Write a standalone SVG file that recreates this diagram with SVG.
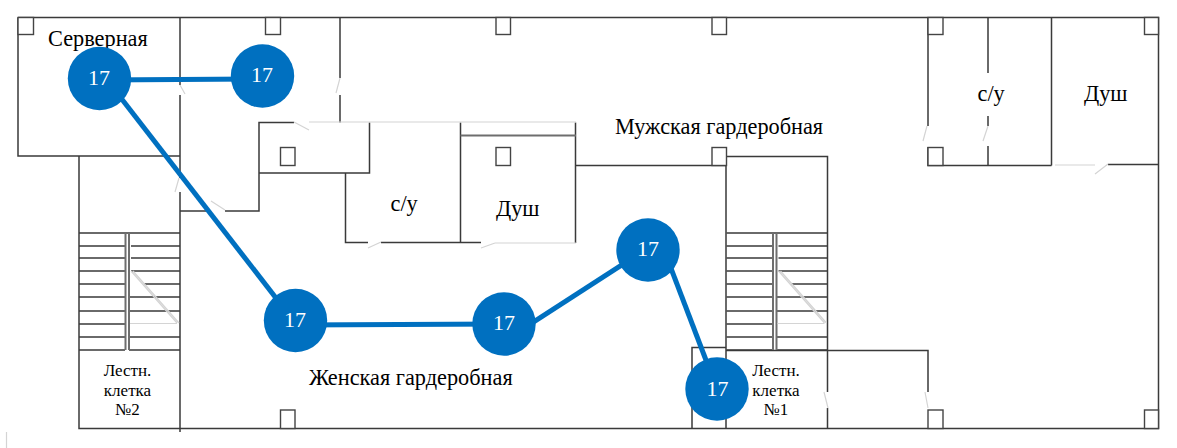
<svg xmlns="http://www.w3.org/2000/svg" width="1177" height="448" viewBox="0 0 1177 448">
<style>
.w{fill:none;stroke:#3a3a3a;stroke-width:1.5}
.t{fill:none;stroke:#6e6e6e;stroke-width:2}
.d{fill:none;stroke:#d4d4d4;stroke-width:1.2}
.p{fill:#fff;stroke:#444;stroke-width:1.4}
.l{font-family:"Liberation Serif","Times New Roman",serif;fill:#000;font-size:22.300px}
.s{font-family:"Liberation Serif","Times New Roman",serif;fill:#000;font-size:17px;text-anchor:middle}
.n{font-family:"Liberation Serif","Times New Roman",serif;fill:#fff;font-size:22px;text-anchor:middle}
.c{fill:none;stroke:#0070c0;stroke-width:5}
</style>
<defs>
<g id="stairs">
<path class="w" d="M79 233H180M79 246H125M131 246H180M79 258H125M131 258H180M79 271H125M131 271H180M79 284H125M144 284H180M79 297H125M129 297H180M79 311H125M129 311H180M79 324H125M79 337H125M129 337H180M79 350H125M129 350H180"/>
<path class="t" d="M125.500 233V350M129 233V350"/>
<path class="d" d="M131 271L177 323M133 271L179 323M130 323.500H177"/>
</g>
</defs>
<g id="plan">
<path class="w" d="M18 17.500H1158.500V428.500H79V156M18 17.500V156H180M180 17.500V85M180 95V178M180 192V432M180 211H210M225 211H259V122.500H294M259 173H369.500V122.500M345.500 173V242.500H368M381 242.500H481M460.500 122.500V242.500M575.500 122.500V243M576 165.500H726M726 156.500H827.500V392M827.500 408V428.500M726 147V428.500M692 428.500V347.500H726M726 350.500H928V392M340 17.500V78M340 95V122.500M928 17.500V126M928 147V165.500H1051.500M988 17.500V73M988 116V126M988 146V165.500M1051.500 17.500V165.500M1108 164.500H1158.500"/>
<path class="t" d="M460.500 135.500H576"/>
<path class="d" d="M180 85L185 94M175 192L179 178M211 201L225 210M294 122L309 130M309 122H576M336 93L340 78M368 248L381 242M481 248L495 243M495 243H576M824 392L828 408M925 392L928 408M923 141L927 126M983 141L988 126M1055 165H1095M1095 174L1108 164M6.500 432V448"/>
<rect class="p" x="18" y="17.500" width="15.500" height="17"/>
<rect class="p" x="265.500" y="17.500" width="15" height="17"/>
<rect class="p" x="496" y="17.500" width="14.500" height="17"/>
<rect class="p" x="712" y="17.500" width="14.500" height="17"/>
<rect class="p" x="928" y="17.500" width="15" height="17"/>
<rect class="p" x="1144.500" y="17.500" width="14" height="17"/>
<rect class="p" x="280.500" y="147.500" width="14.500" height="18"/>
<rect class="p" x="496" y="147.500" width="14.500" height="18"/>
<rect class="p" x="712" y="147.500" width="14.500" height="18"/>
<rect class="p" x="928" y="147.500" width="15" height="18"/>
<rect class="p" x="280.500" y="410" width="14.500" height="18.500"/>
<rect class="p" x="928" y="410" width="15" height="18.500"/>
<rect class="p" x="1144.500" y="410" width="14" height="18.500"/>
<use href="#stairs"/>
<use href="#stairs" x="647.500"/>
</g>
<g id="labels">
<text class="l" x="48" y="46">Серверная</text>
<text class="l" x="615" y="134">Мужская гардеробная</text>
<text class="l" x="309" y="385">Женская гардеробная</text>
<text class="l" x="390.500" y="211">с/у</text>
<text class="l" x="496" y="216">Душ</text>
<text class="l" x="977.500" y="101">с/у</text>
<text class="l" x="1084" y="101">Душ</text>
<text class="s" x="127.500" y="376">Лестн.</text>
<text class="s" x="127.500" y="396">клетка</text>
<text class="s" x="127.500" y="415">№2</text>
<text class="s" x="776" y="376">Лестн.</text>
<text class="s" x="776" y="396">клетка</text>
<text class="s" x="776" y="415">№1</text>
</g>
<g id="connectors">
<path class="c" d="M99.500 80L262.500 79"/>
<path class="c" d="M107 80L293 320"/>
<path class="c" d="M295.500 325L504 324"/>
<path class="c" d="M504 341L648 248"/>
<path class="c" d="M664 250L717 389"/>
</g>
<g id="n1"><circle cx="99.500" cy="78.500" r="31.700" fill="#0070c0"/><text class="n" x="99" y="85">17</text></g>
<g id="n2"><circle cx="262.500" cy="76" r="31.700" fill="#0070c0"/><text class="n" x="262" y="82">17</text></g>
<g id="n3"><circle cx="295.500" cy="320.500" r="31.700" fill="#0070c0"/><text class="n" x="295" y="327">17</text></g>
<g id="n4"><circle cx="504" cy="324" r="31.700" fill="#0070c0"/><text class="n" x="504" y="330">17</text></g>
<g id="n5"><circle cx="648" cy="250" r="31.700" fill="#0070c0"/><text class="n" x="648" y="256">17</text></g>
<g id="n6"><circle cx="717" cy="389" r="31.700" fill="#0070c0"/><text class="n" x="717.500" y="396">17</text></g>
</svg>
